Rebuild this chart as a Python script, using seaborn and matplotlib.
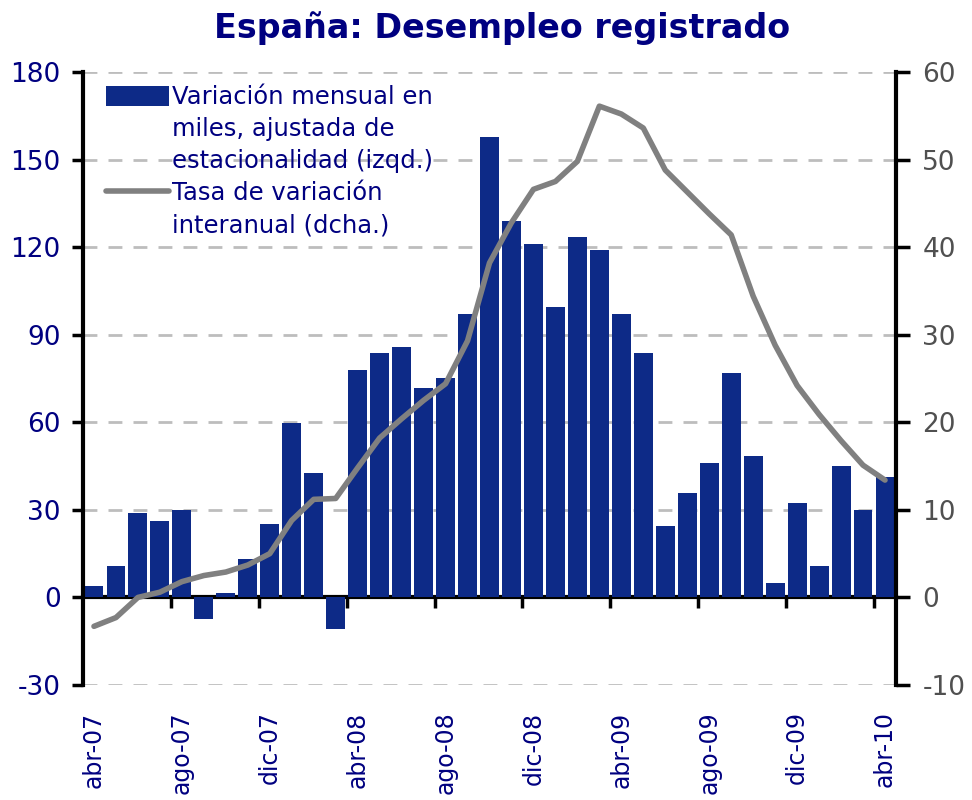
import matplotlib
matplotlib.use("Agg")
import matplotlib.pyplot as plt
import seaborn as sns
import pandas as pd
import numpy as np
from matplotlib.patches import Patch
from matplotlib.lines import Line2D

# ---------------- data ----------------
meses = ["ene", "feb", "mar", "abr", "may", "jun", "jul", "ago", "sep", "oct", "nov", "dic"]
periodos = []
for i in range(37):
    m = (3 + i) % 12
    y = 7 + (3 + i) // 12
    periodos.append(f"{meses[m]}-{y:02d}")

variacion_mensual = [4, 10.6, 28.8, 26.3, 29.8, -7.3, 1.4, 13.0, 25.3, 59.6, 42.6, -10.9,
                     77.8, 83.7, 85.7, 71.8, 75.3, 97.0, 157.8, 128.9, 121.1, 99.4, 123.5,
                     119.0, 97.0, 83.7, 24.4, 35.7, 45.9, 76.8, 48.3, 4.8, 32.2, 10.6,
                     44.9, 29.8, 41.4]
tasa_interanual = [-3.3, -2.3, 0.0, 0.6, 1.8, 2.5, 2.9, 3.7, 5.0, 8.8, 11.2, 11.3, 14.8,
                   18.2, 20.4, 22.5, 24.4, 29.3, 38.2, 42.8, 46.6, 47.5, 49.8, 56.1, 55.2,
                   53.6, 48.8, 46.3, 43.8, 41.4, 34.4, 28.8, 24.2, 20.9, 17.9, 15.1, 13.4]

titulo = "España: Desempleo registrado"
label_barras = ["Variación mensual en", "miles, ajustada de", "estacionalidad (izqd.)"]
label_linea = ["Tasa de variación", "interanual (dcha.)"]
left_ticks = [-30, 0, 30, 60, 90, 120, 150, 180]
right_ticks = [-10, 0, 10, 20, 30, 40, 50, 60]

df = pd.DataFrame({"periodo": periodos, "idx": np.arange(len(periodos)),
                   "var": variacion_mensual, "tasa": tasa_interanual})

# ---------------- style ----------------
sns.set_theme(style="white")
plt.rcParams["font.family"] = ["DejaVu Sans"]
plt.rcParams["axes.unicode_minus"] = False
NAVY = "#000080"
BAR = "#0D2A87"
GRAY_LINE = "#808080"

fig = plt.figure(figsize=(9.72, 8.0), dpi=100)
ax = fig.add_axes([83/972, 1 - 685/800, (896 - 83)/972, (685 - 72)/800])

sns.barplot(data=df, x="periodo", y="var", order=periodos, color=BAR, saturation=1,
            width=0.86, ax=ax, zorder=2, linewidth=0, edgecolor="none")
ax.set_xlim(-0.5, len(periodos) - 0.5)
ax.set_ylim(-30, 180)
ax.set_yticks(left_ticks)
ax.set_xlabel("")
ax.set_ylabel("")

# gridlines (dashed) except at zero
for v in left_ticks:
    if v != 0:
        ax.axhline(v, color="#BDBDBD", lw=2, ls=(0, (5, 4)), zorder=0)
ax.set_axisbelow(True)

# spines
for s in ["top", "bottom", "right"]:
    ax.spines[s].set_visible(False)
ax.spines["left"].set_color("black")
ax.spines["left"].set_linewidth(3)
ax.tick_params(axis="y", which="major", direction="out", length=8, width=2.5,
               color="black", labelcolor=NAVY, labelsize=19, pad=8, left=True)

# x labels at bottom
lab_pos = list(range(0, len(periodos), 4))
ax.set_xticks(lab_pos)
ax.set_xticklabels([periodos[i] for i in lab_pos], rotation=90, color=NAVY, fontsize=17)
ax.tick_params(axis="x", which="major", length=0, pad=19, bottom=True)

# zero axis line with ticks at category boundaries
sec = ax.secondary_xaxis((0 - (-30)) / 210)
sec.spines["bottom"].set_linewidth(3)
sec.spines["bottom"].set_color("black")
sec.set_xticks([i - 0.5 for i in lab_pos[1:]])
sec.tick_params(axis="x", direction="out", length=8, width=2.5, color="black",
                labelbottom=False)

# right axis line
ax2 = ax.twinx()
sns.lineplot(data=df, x="idx", y="tasa", color=GRAY_LINE, lw=4, ax=ax2, zorder=3)
ax2.set_ylim(-10, 60)
ax2.set_yticks(right_ticks)
ax2.set_xlim(-0.5, len(periodos) - 0.5)
ax2.set_ylabel("")
ax2.set_xlabel("")
for s in ["top", "bottom", "left"]:
    ax2.spines[s].set_visible(False)
ax2.spines["right"].set_color("black")
ax2.spines["right"].set_linewidth(3)
ax2.tick_params(axis="y", direction="out", length=10, width=2.5, color="black",
                labelcolor="#505050", labelsize=19, pad=9, right=True)
ax2.grid(False)

# legend
empty = Patch(facecolor="none", edgecolor="none")
handles = [Patch(facecolor=BAR, edgecolor="none"), empty, empty,
           Line2D([], [], color=GRAY_LINE, lw=4), empty]
labels = label_barras + label_linea
leg = ax2.legend(handles, labels, loc="upper left", bbox_to_anchor=(0.012, 1.0),
                 frameon=False, fontsize=17.5, labelcolor=NAVY, handlelength=2.6,
                 handleheight=0.85, handletextpad=0.12, labelspacing=0.33,
                 borderaxespad=0.15)

fig.text(502/972, 1 - 28/800, titulo, ha="center", va="center", fontsize=24,
         fontweight="bold", color=NAVY)

fig.savefig("out.png", dpi=100, facecolor="white")
